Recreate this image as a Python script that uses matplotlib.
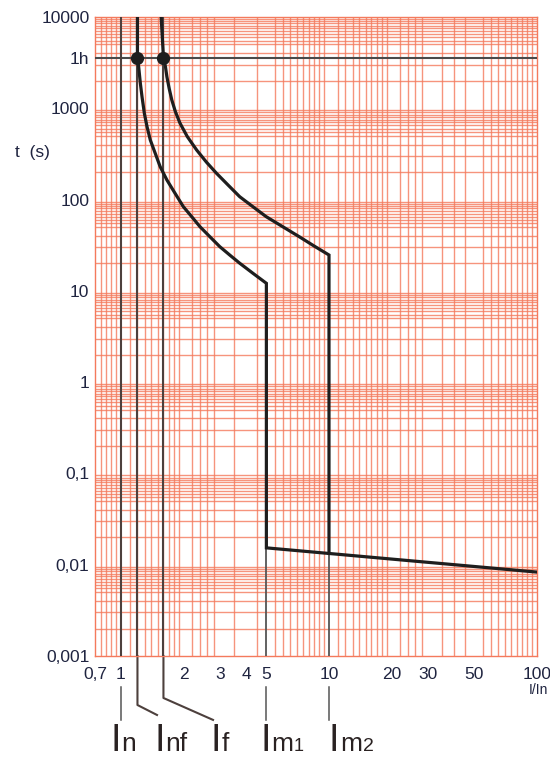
import numpy as np
import matplotlib
matplotlib.use("Agg")
import matplotlib.pyplot as plt
from matplotlib.ticker import FixedLocator, FixedFormatter, NullFormatter
import matplotlib.transforms as mtransforms

plt.rcParams['font.family'] = ['Liberation Sans', 'DejaVu Sans']

# tripping curves (I/In, t in seconds)
curve1_I = [1.2, 1.2, 1.216, 1.239, 1.262, 1.295, 1.334, 1.383, 1.461, 1.543, 1.662, 1.82,
            1.994, 2.187, 2.396, 2.674, 2.985, 3.332, 3.72, 4.305, 5.0, 5.0, 100]
curve1_t = [10000, 3600, 2855, 1878, 1340, 881, 629, 450, 321, 229, 164, 117,
            83.6, 65, 50.5, 39.2, 30.5, 24.7, 20.1, 15.6, 12.1, 0.0153, 0.0083]

curve2_I = [1.56, 1.6, 1.636, 1.662, 1.704, 1.755, 1.826, 1.923, 2.084, 2.311, 2.579, 2.879,
            3.27, 3.72, 4.305, 4.988, 5.986, 7.193, 8.48, 10, 10]
curve2_t = [10000, 3600, 2855, 2218, 1656, 1233, 918, 685, 489, 349, 256, 194,
            144.5, 107.6, 83.6, 65, 50.5, 39.2, 31.0, 24.7, 0.0133]

one_hour = 3600
I_n, I_nf, I_f, I_m1, I_m2 = 1.0, 1.2, 1.6, 5.0, 10.0

x_ticks = [0.75, 1, 2, 3, 4, 5, 10, 20, 30, 50, 100]
x_labels = ['0,7', '1', '2', '3', '4', '5', '10', '20', '30', '50', '100']
y_ticks = [0.001, 0.01, 0.1, 1, 10, 100, 1000, 3600, 10000]
y_labels = ['0,001', '0,01', '0,1', '1', '10', '100', '1000', '1h', '10000']

grid_col = '#f47a5c'
txt_col = '#1f2440'
ref_col = '#4d403d'

fig = plt.figure(figsize=(5.5, 7.61), dpi=100)
ax = fig.add_axes([95 / 550, 105 / 761, 442 / 550, 639 / 761])
ax.set_xscale('log')
ax.set_yscale('log')
ax.set_xlim(0.75, 100)
ax.set_ylim(0.001, 10000)

# log paper grid
xg = []
for dec in [0.1, 1, 10]:
    xg += list(np.arange(1.0, 2.0, 0.1) * dec) + list(np.arange(2.0, 3.0, 0.2) * dec) + list(np.arange(3.0, 10.0, 0.5) * dec)
xg = [v for v in xg if 0.75 <= v <= 100] + [100]
yg = []
for e in range(-3, 4):
    yg += [m * 10.0 ** e for m in [1, 2, 3, 4, 5, 5.5, 6, 6.5, 7, 7.5, 8, 8.5, 9, 9.5]]
yg.append(10000)
ax.xaxis.set_minor_locator(FixedLocator(xg))
ax.yaxis.set_minor_locator(FixedLocator(yg))
ax.xaxis.set_minor_formatter(NullFormatter())
ax.yaxis.set_minor_formatter(NullFormatter())
ax.grid(which='minor', color=grid_col, lw=1.0, alpha=0.8)

ax.xaxis.set_major_locator(FixedLocator(x_ticks))
ax.xaxis.set_major_formatter(FixedFormatter(x_labels))
ax.yaxis.set_major_locator(FixedLocator(y_ticks))
ax.yaxis.set_major_formatter(FixedFormatter(y_labels))
ax.tick_params(which='both', length=0)
ax.tick_params(axis='x', pad=8, labelsize=12.5, labelcolor=txt_col)
ax.tick_params(axis='y', pad=4, labelsize=12.5, labelcolor=txt_col)
for s in ax.spines.values():
    s.set_color(grid_col)
    s.set_linewidth(1.0)

# 1h line and reference currents
ax.axhline(one_hour, color='#4a4a4a', lw=1.5, zorder=3)
for v in [I_n, I_nf, I_f]:
    ax.axvline(v, color=ref_col, lw=1.5, zorder=3)
ax.plot([I_m1, I_m1], [curve1_t[-2], 0.001], color='#555555', lw=1.3, zorder=3)
ax.plot([I_m2, I_m2], [curve2_t[-1], 0.001], color='#555555', lw=1.3, zorder=3)

# curves
ax.plot(curve1_I, curve1_t, color='#1e1e1e', lw=2.3, zorder=4, solid_joinstyle='miter')
ax.plot(curve2_I, curve2_t, color='#1e1e1e', lw=2.3, zorder=4, solid_joinstyle='miter')
ax.plot([I_nf, I_f], [one_hour, one_hour], 'o', color='#1e1e1e', ms=8.5, zorder=5)

# leaders below the axis
tr = mtransforms.blended_transform_factory(ax.transData, ax.transAxes)
for v in [I_n, I_m1, I_m2]:
    ax.plot([v, v], [-0.0485, -0.100], color='#555555', lw=1.1, transform=tr, clip_on=False)
ax.plot([I_nf, I_nf, 1.49], [0, -0.0767, -0.0923], color=ref_col, lw=1.5, transform=tr, clip_on=False)
ax.plot([I_f, I_f, 2.77], [0, -0.0657, -0.100], color=ref_col, lw=1.5, transform=tr, clip_on=False)

# current labels
lab_col = '#2a2222'
base = 1 - 751 / 761
def piece(x, s, size):
    fig.text(x / 550, base, s, fontsize=size, color=lab_col, va='baseline')

piece(110, 'I', 27)
piece(121, 'n', 19)
piece(154, 'I', 27)
piece(165, 'nf', 19)
piece(210, 'I', 27)
piece(222, 'f', 19)
piece(260, 'I', 27)
piece(271, 'm', 19)
piece(294, '1', 13)
piece(329, 'I', 27)
piece(340, 'm', 19)
piece(363, '2', 14)

fig.text(15 / 550, 1 - 152 / 761, 't  (s)', fontsize=12.5, color=txt_col, va='center')
fig.text(548 / 550, 1 - 690 / 761, 'I/In', fontsize=10, color=txt_col, va='center', ha='right')

fig.savefig('out.png', dpi=100)
